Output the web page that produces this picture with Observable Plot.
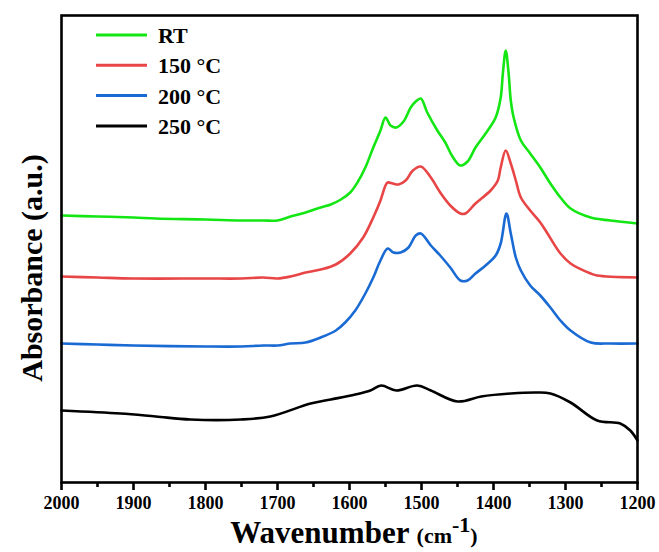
<!DOCTYPE html>
<html>
<head>
<meta charset="utf-8">
<script src="https://cdn.jsdelivr.net/npm/d3@7"></script>
<script src="https://cdn.jsdelivr.net/npm/@observablehq/plot@0.6"></script>
<style>
  body { margin: 0; background: #fff; }
  #chart { position: relative; width: 659px; height: 552px; }
</style>
</head>
<body>
<div id="chart"></div>
<script>
// Series labels and colours
const seriesNames = ["RT", "150 °C", "200 °C", "250 °C"];
const seriesColors = ["#14e614", "#e84646", "#1a6ad4", "#000000"];

// RT (green)
const wnRT  = [2000,1950,1900,1869,1800,1750,1720,1700,1682,1661,1640,1626,1612,1599,1589,1578,1567,1557,1550,1543,1535,1525,1515,1508,1501,1492,1478,1467,1457,1446,1436,1425,1411,1397,1390,1387,1383,1379,1376,1372,1362,1349,1335,1321,1307,1293,1265,1238,1200];
const absRT = [2.67,2.66,2.65,2.64,2.63,2.62,2.62,2.62,2.66,2.70,2.75,2.78,2.83,2.90,3.00,3.15,3.35,3.52,3.65,3.57,3.55,3.61,3.75,3.81,3.84,3.70,3.52,3.40,3.26,3.17,3.21,3.35,3.49,3.65,3.85,4.09,4.32,4.09,3.82,3.65,3.42,3.29,3.15,2.99,2.85,2.74,2.65,2.62,2.59];

// 150 °C (red)
const wn150  = [2000,1950,1900,1800,1750,1720,1700,1682,1661,1640,1619,1599,1581,1567,1557,1550,1547,1540,1532,1522,1512,1501,1487,1474,1460,1446,1439,1425,1404,1394,1390,1383,1376,1369,1362,1349,1335,1325,1307,1293,1265,1256,1200];
const abs150 = [2.06,2.05,2.04,2.04,2.04,2.05,2.04,2.06,2.10,2.13,2.18,2.29,2.45,2.65,2.82,2.97,3.00,2.99,2.98,3.02,3.12,3.16,3.05,2.90,2.77,2.69,2.69,2.79,2.92,3.02,3.15,3.32,3.19,3.02,2.85,2.72,2.60,2.49,2.29,2.19,2.09,2.07,2.05];

// 200 °C (blue)
const wn200  = [2000,1950,1900,1800,1750,1720,1700,1682,1661,1640,1619,1606,1592,1578,1567,1557,1547,1539,1529,1518,1508,1501,1487,1474,1460,1446,1436,1425,1411,1397,1390,1382,1376,1369,1362,1349,1335,1321,1307,1293,1265,1238,1200];
const abs200 = [1.39,1.38,1.37,1.36,1.36,1.37,1.37,1.39,1.40,1.45,1.52,1.60,1.72,1.89,2.05,2.22,2.34,2.30,2.30,2.35,2.47,2.49,2.37,2.27,2.15,2.02,2.02,2.09,2.17,2.27,2.39,2.69,2.49,2.25,2.12,1.97,1.87,1.75,1.62,1.52,1.40,1.39,1.39];

// 250 °C (black)
const wn250  = [2000,1918,1869,1821,1751,1710,1654,1626,1592,1571,1556,1535,1506,1487,1450,1417,1376,1339,1321,1293,1256,1224,1210,1200];
const abs250 = [0.72,0.69,0.66,0.63,0.63,0.66,0.79,0.83,0.88,0.92,0.97,0.92,0.97,0.92,0.81,0.86,0.89,0.90,0.89,0.80,0.62,0.59,0.52,0.42];

// x-axis ticks
const majorTicks = [2000,1900,1800,1700,1600,1500,1400,1300,1200];
const minorTicks = [1950,1850,1750,1650,1550,1450,1350,1250];

const series = [
  {wn: wnRT, abs: absRT},
  {wn: wn150, abs: abs150},
  {wn: wn200, abs: abs200},
  {wn: wn250, abs: abs250}
].map((s, i) => s.wn.map((w, j) => ({wn: w, abs: s.abs[j], name: seriesNames[i]})));

const font = "'Liberation Serif', 'Times New Roman', serif";

const plot = Plot.plot({
  width: 659,
  height: 552,
  marginLeft: 61,
  marginRight: 22,
  marginTop: 15,
  marginBottom: 70,
  style: {fontFamily: font, fontWeight: "bold", fontSize: "18px", background: "#fff", color: "#000"},
  x: {domain: [2000, 1200]},
  y: {domain: [0, 4.67], axis: null},
  marks: [
    ...series.map((d, i) => Plot.line(d, {x: "wn", y: "abs", stroke: seriesColors[i], strokeWidth: 2.6, curve: "catmull-rom"})),
    Plot.frame({stroke: "#000", strokeWidth: 2.6}),
    Plot.axisX({ticks: majorTicks, tickSize: 8, tickPadding: 6, strokeWidth: 2.6, label: null, tickFormat: d => String(d), fontSize: 18, fontWeight: "bold"}),
    Plot.axisX({ticks: minorTicks, tickSize: 5, strokeWidth: 2.6, label: null, tickFormat: () => ""})
  ]
});

document.getElementById("chart").appendChild(plot);

const svg = d3.select(plot);

// x title
const xt = svg.append("text")
  .attr("x", 354).attr("y", 543)
  .attr("text-anchor", "middle")
  .attr("font-family", font).attr("font-weight", "bold").attr("fill", "#000");
xt.append("tspan").attr("font-size", 31).text("Wavenumber ");
xt.append("tspan").attr("font-size", 22).text("(cm");
xt.append("tspan").attr("font-size", 22).attr("dy", -11).text("-1");
xt.append("tspan").attr("font-size", 22).attr("dy", 11).text(")");

// y title
svg.append("text")
  .attr("transform", "translate(42,268) rotate(-90)")
  .attr("text-anchor", "middle")
  .attr("font-family", font).attr("font-weight", "bold").attr("font-size", 30).attr("fill", "#000")
  .text("Absorbance (a.u.)");

// legend
const lg = svg.append("g");
seriesNames.forEach((name, i) => {
  const y = 35 + i * 30.3;
  lg.append("line").attr("x1", 96).attr("x2", 147).attr("y1", y).attr("y2", y)
    .attr("stroke", seriesColors[i]).attr("stroke-width", 3);
  lg.append("text").attr("x", 158).attr("y", y + 8)
    .attr("text-anchor", "start")
    .attr("font-family", font).attr("font-weight", "bold").attr("font-size", 22).attr("fill", "#000")
    .text(name);
});
</script>
</body>
</html>
